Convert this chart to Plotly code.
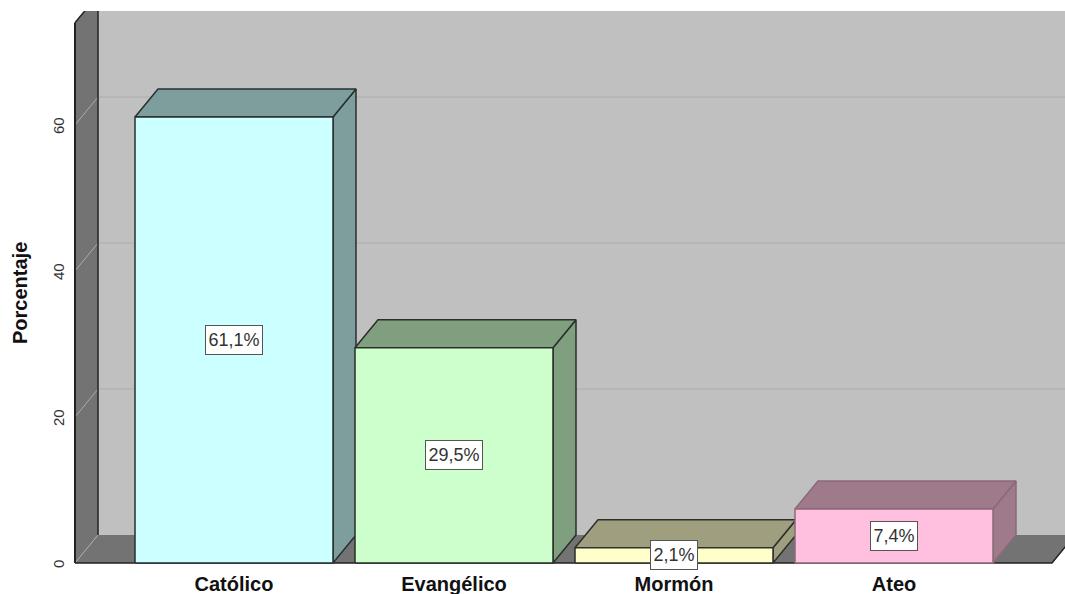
import plotly.graph_objects as go

categories = ["Católico", "Evangélico", "Mormón", "Ateo"]
values = [61.1, 29.5, 2.1, 7.4]
labels = ["61,1%", "29,5%", "2,1%", "7,4%"]
front_colors = ["#CCFFFF", "#CCFFCC", "#FFFFCC", "#FFC0E0"]
shade_colors = ["#7E9E9E", "#7F9F7F", "#9F9F7F", "#9F7A8A"]
edge_colors = ["#2A2F2F", "#2A2F2A", "#2F2F2A", "#8A6A7A"]
y_ticks = [0, 20, 40, 60]
grid_values = [20, 40, 60]

PX_X = 220.0
PX_Y = 7.3
CENTER0 = 234.0
L, R, T, B = 73, 0, 11, 30
W, H = 1065, 594
BASE = 563.0
DX = 23 / PX_X
DY = 28 / PX_Y
HALF = 99 / PX_X
X_MIN = (L - CENTER0) / PX_X
X_MAX = (W - CENTER0) / PX_X
Y_MIN = (BASE - (H - B)) / PX_Y
Y_MAX = (BASE - T) / PX_Y
WALL_L = (75 - CENTER0) / PX_X
FLOOR_R = (1052 - CENTER0) / PX_X
WALL_TOP = 74.0

fig = go.Figure()


def poly(xs, ys, fill, line=None, width=1.5):
    fig.add_trace(go.Scatter(
        x=list(xs) + [xs[0]], y=list(ys) + [ys[0]], mode="lines", fill="toself" if fill else None,
        fillcolor=fill, line=dict(color=line or "rgba(0,0,0,0)", width=width if line else 0),
        hoverinfo="skip", showlegend=False))


def seg(xs, ys, color, width=1.0):
    fig.add_trace(go.Scatter(x=xs, y=ys, mode="lines", line=dict(color=color, width=width),
                             hoverinfo="skip", showlegend=False))


# back wall
poly([WALL_L + DX, X_MAX + 1, X_MAX + 1, WALL_L + DX],
     [DY, DY, WALL_TOP + DY, WALL_TOP + DY], "#C0C0C0")
for g in grid_values:
    seg([WALL_L + DX, X_MAX + 1], [g + DY, g + DY], "#ABABAB", 1.2)
# floor
poly([WALL_L, FLOOR_R, FLOOR_R + DX, WALL_L + DX], [0, 0, DY, DY], "#737373")
# left wall
poly([WALL_L, WALL_L + DX, WALL_L + DX, WALL_L], [0, DY, WALL_TOP + DY, WALL_TOP], "#737373")
for g in grid_values:
    seg([WALL_L, WALL_L + DX], [g, g + DY], "#ABABAB", 1.0)
seg([WALL_L, WALL_L + DX], [0, DY], "#ABABAB", 1.0)
seg([WALL_L + DX, WALL_L + DX], [DY, WALL_TOP + DY], "#222222", 1.5)
seg([WALL_L, WALL_L], [0, WALL_TOP], "#222222", 2)
seg([WALL_L, WALL_L + DX], [WALL_TOP, WALL_TOP + DY], "#222222", 1.5)
seg([WALL_L, FLOOR_R, FLOOR_R + DX], [0, 0, DY], "#222222", 1.5)

# bars
for i, v in enumerate(values):
    x0, x1 = i - HALF, i + HALF
    e = edge_colors[i]
    poly([x1, x1 + DX, x1 + DX, x1], [0, DY, v + DY, v], shade_colors[i], e)
    poly([x0, x1, x1 + DX, x0 + DX], [v, v, v + DY, v + DY], shade_colors[i], e)
    poly([x0, x1, x1, x0], [0, 0, v, v], front_colors[i], e)

annotations = [
    dict(x=i, y=v / 2, xref="x", yref="y", text=labels[i], showarrow=False,
         font=dict(family="Liberation Sans", size=18, color="#333333"),
         width=len(labels[i]) * 10 + 2, height=24, align="center", valign="middle",
         bgcolor="white", bordercolor="#555555", borderwidth=1, borderpad=2)
    for i, v in enumerate(values)
]
annotations.append(dict(x=(20 - L) / (W - L), y=(H - B - 293) / (H - B - T), xref="paper", yref="paper",
                        xanchor="center", yanchor="middle",
                        text="<b>Porcentaje</b>", textangle=-90, showarrow=False,
                        font=dict(family="Liberation Sans", size=20, color="#111111")))

fig.update_layout(
    width=W, height=H, margin=dict(l=L, r=R, t=T, b=B, autoexpand=False),
    paper_bgcolor="white", plot_bgcolor="white", showlegend=False,
    annotations=annotations,
    xaxis=dict(range=[X_MIN, X_MAX], tickmode="array", tickvals=list(range(len(categories))),
               ticktext=categories, showgrid=False, zeroline=False, showline=False, ticks="",
               ticklabelstandoff=6, fixedrange=True,
               tickfont=dict(family="Liberation Sans", size=20, color="#111111", weight="bold")),
    yaxis=dict(range=[Y_MIN, Y_MAX], tickmode="array", tickvals=y_ticks, showgrid=False,
               zeroline=False, showline=False, ticks="", tickangle=-90, ticklabelstandoff=5,
               ticklabelshift=3,
               fixedrange=True, tickfont=dict(family="Liberation Sans", size=15, color="#333333")),
)
fig.write_html("out.html", config=dict(displayModeBar=False),
               post_script="document.body.style.margin='0';document.documentElement.style.overflow='hidden';")
